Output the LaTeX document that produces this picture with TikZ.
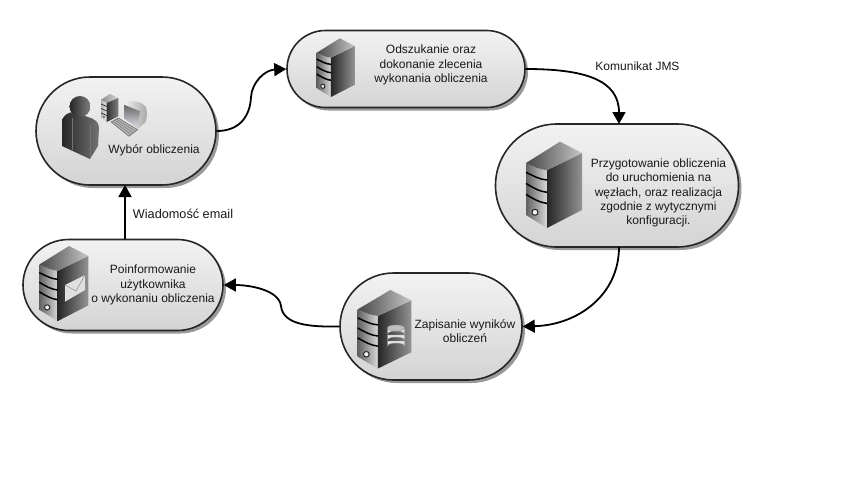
\documentclass[tikz,border=0pt]{standalone}
\usepackage{fontspec}
\setmainfont{Liberation Sans}
\usetikzlibrary{shapes.misc,shadows,arrows.meta,calc}
\tikzset{
  pill/.style={rounded rectangle,draw=black!85,line width=1.6pt,top color=black!5,bottom color=black!17,
    general shadow={shadow xshift=3pt,shadow yshift=-3pt,fill=black!40},inner sep=0pt},
  lbl/.style={align=center,font=\fontsize{12}{14.2}\selectfont,text=black!90,inner sep=0pt},
  conn/.style={line width=1.8pt,black,-{Triangle[length=12pt,width=13pt]}},
  stripe/.style={line width=1.5pt,black},
  server/.pic={
    \path[left color=black!62,right color=black!15] (0,21.3) .. controls (8,25) and (14,28) .. (21,28.5) -- (21,86.3) -- (0,73.3) -- cycle;
    \path[left color=black!85,right color=black!42] (21,28.5) -- (56,11.3) -- (56,68.3) -- (21,86.3) -- cycle;
    \path[left color=black!72,right color=black!22] (0,21.3) -- (34,0) -- (56,11.3) -- (21,28.5) .. controls (14,28) and (8,25) .. (0,21.3) -- cycle;
    \draw[stripe] (0,30.6) .. controls (7,34) and (14,38) .. (21,38.3);
    \draw[stripe] (0,41.7) .. controls (7,46) and (14,50) .. (21,50.6);
    \draw[stripe] (0,52.6) .. controls (7,57) and (14,61) .. (21,61.7);
    \draw[fill=black!5,draw=black!85,line width=1pt] (9,70.6) circle (3);
  }
}
\begin{document}
\begin{tikzpicture}[x=1pt,y=-1pt]
\useasboundingbox (0,0) rectangle (844,480);
\fill[white] (0,0) rectangle (844,480);

% pills
\node[pill,minimum width=180pt,minimum height=108pt] (wybor) at (126,131) {};
\node[pill,minimum width=200pt,minimum height=91pt] (poinf) at (123,285) {};
\node[pill,minimum width=238pt,minimum height=77pt] (odsz) at (406,69) {};
\node[pill,minimum width=243pt,minimum height=123pt] (przyg) at (617,185.5) {};
\node[pill,minimum width=182pt,minimum height=107pt] (zapis) at (431,326.5) {};

% servers
\pic[xscale=.68,yscale=.68] at (316.7,38.3) {server};
\pic at (526,141.7) {server};
\pic[xscale=.96,yscale=.91] at (357.7,290) {server};
\pic[xscale=.875,yscale=.87] at (39.3,246) {server};

% envelope
\path[fill=black!12] (65,285) -- (85,275) -- (85,290) -- (65,301.7) -- cycle;
\draw[black!45,line width=.5pt] (65,285) -- (76,291) -- (85,275);
% disks
\foreach \yy in {346,340,334}{
  \path[fill=black!10,draw=black!40,line width=.4pt] (387.5,\yy-5) -- (387.5,\yy) arc[x radius=8.5,y radius=3,start angle=180,end angle=360] -- (404.5,\yy-5) -- cycle;
}
\path[fill=black!25,draw=black!40,line width=.4pt] (396,328) ellipse (8.5 and 3);

% person
\path[left color=black!85,right color=black!55]
  (62,122) .. controls (62,116) and (68,112) .. (74,112) -- (88,117)
  .. controls (95,119) and (99,122) .. (99,128) -- (98,146) -- (90,159) -- (62,146) -- cycle;
\draw[black!55,line width=.5pt] (72,118) -- (72,150);
\draw[black!55,line width=.5pt] (90,124) -- (90,158);
\path[left color=black!85,right color=black!50] (80,106.5) circle (10.5);

% computer
\path[left color=black!30,right color=black!8] (101,99.7) -- (106.7,103) -- (106.7,122) -- (101.7,118) -- cycle;
\path[left color=black!45,right color=black!15] (101,99.7) -- (110,94) -- (118.3,98) -- (106.7,103) -- cycle;
\path[left color=black!80,right color=black!50] (106.7,103) -- (118.3,98) -- (118.3,116.3) -- (106.7,122) -- cycle;
\foreach \yy in {104,108.5,113}{\draw[black!85,line width=.7pt] (101.2,\yy) -- (106.7,\yy+2.5);}
\fill[black!80] (104,117) circle (.9);
\path[left color=black!5,right color=black!35] (124,103.5) .. controls (130,100) and (140,100) .. (146,107) .. controls (147.5,113) and (147,120) .. (145,123) -- (138,128.5) -- (124,119) -- cycle;
\path[top color=black!60,bottom color=blue!25!black!15] (124,104.7) -- (140,111.3) -- (137.7,127.3) -- (124,118.7) -- cycle;
\path[fill=black!30,draw=black!65,line width=.4pt] (111,122) -- (118.3,118) -- (137.7,129.7) -- (129,136.3) -- cycle;
\foreach \kk in {.25,.5,.75}{\draw[black!55,line width=.4pt] ($(111,122)!\kk!(118.3,118)$) -- ($(129,136.3)!\kk!(137.7,129.7)$);}

% texts
\node[lbl] (twybor) at (154,150) {Wybór obliczenia};
\node[lbl] (tpoinf) at (153,285) {Poinformowanie\\użytkownika\\o wykonaniu obliczenia};
\node[lbl] (todsz) at (431,65) {Odszukanie oraz\\dokonanie zlecenia\\wykonania obliczenia};
\node[lbl] (tprzyg) at (658.5,193) {Przygotowanie obliczenia\\do uruchomienia na\\węzłach, oraz realizacja\\zgodnie z wytycznymi\\konfiguracji.};
\node[lbl] (tzapis) at (465,331.5) {Zapisanie wyników\\obliczeń};
\node[lbl] (ljms) at (637.5,66) {Komunikat JMS};
\node[lbl,font=\fontsize{12.7}{14.2}\selectfont] (lmail) at (183,214) {Wiadomość email};

% connectors
\coordinate (pin) at (619,124);
\coordinate (pout) at (619,247);
\coordinate (mout) at (125,239);
\coordinate (min) at (125,185);
\coordinate (c1) at (251,97);
\coordinate (c4) at (281,306);
\draw[conn] (wybor.east) .. controls (238,131) and (250,118) .. (c1) .. controls (252,82) and (265,70) .. (odsz.west);
\draw[conn] (odsz.east) .. controls (585,69) and (619,80) .. (pin);
\draw[conn] (pout) .. controls (619,295) and (578,325) .. (zapis.east);
\draw[conn] (zapis.west) .. controls (310,327) and (283,325) .. (c4) .. controls (279,290) and (250,285) .. (poinf.east);
\draw[conn] (mout) -- (min);
\end{tikzpicture}
\end{document}
